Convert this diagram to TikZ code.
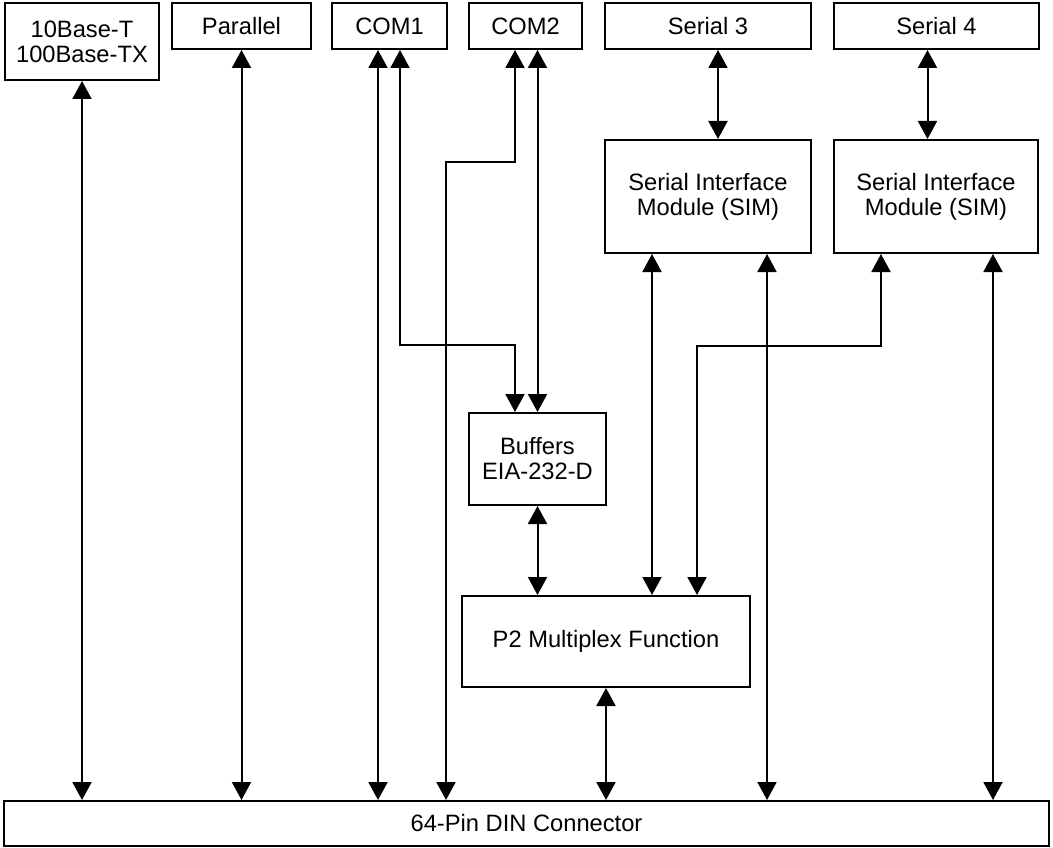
\documentclass[tikz,border=0pt]{standalone}
\usepackage{fontspec}
\setmainfont{Liberation Sans}
\usetikzlibrary{arrows.meta}

\tikzset{
  blk/.style={draw, line width=2pt, align=center, font=\fontsize{23.7}{25}\selectfont},
  link/.style={line width=2pt, {Triangle[length=18pt,width=19pt]}-{Triangle[length=18pt,width=19pt]}}
}

\begin{document}
\begin{tikzpicture}[x=1pt, y=-1pt]
\useasboundingbox (0,0) rectangle (1053,848);

% Ports along the top
\node[blk, minimum width=154pt, minimum height=77pt] (b10) at (82,41.5) {10Base-T\\100Base-TX};
\node[blk, minimum width=139pt, minimum height=46pt] (par) at (241.5,26) {Parallel};
\node[blk, minimum width=115pt, minimum height=46pt] (com1) at (389.5,26) {COM1};
\node[blk, minimum width=113pt, minimum height=46pt] (com2) at (525.5,26) {COM2};
\node[blk, minimum width=206pt, minimum height=46pt] (ser3) at (708,26) {Serial 3};
\node[blk, minimum width=205pt, minimum height=46pt] (ser4) at (936.5,26) {Serial 4};

% Serial interface modules
\node[blk, minimum width=206pt, minimum height=113pt] (sim1) at (708,196.5) {Serial Interface\\Module (SIM)};
\node[blk, minimum width=204pt, minimum height=113pt] (sim2) at (936,196.5) {Serial Interface\\Module (SIM)};

% Buffers and multiplexer
\node[blk, minimum width=137pt, minimum height=92pt] (buf) at (537.5,459) {Buffers\\EIA-232-D};
\node[blk, minimum width=288pt, minimum height=91pt] (p2) at (606,641.5) {P2 Multiplex Function};

% Connector
\node[blk, minimum width=1045pt, minimum height=45pt] (din) at (526.5,823.5) {64-Pin DIN Connector};

% Bend points
\coordinate (k2) at (515,345);
\coordinate (k3) at (515,162);
\coordinate (k4) at (446,162);
\coordinate (k6) at (697,346);

% Straight links to the DIN connector
\draw[link] (b10.south) -- (b10.south |- din.north);
\draw[link] (par.south) -- (par.south |- din.north);
\draw[link] ([xshift=-11.5pt]com1.south) -- ([xshift=-11.5pt]com1.south |- din.north);
\draw[link] ([xshift=59pt]sim1.south) -- ([xshift=59pt]sim1.south |- din.north);
\draw[link] ([xshift=57pt]sim2.south) -- ([xshift=57pt]sim2.south |- din.north);
\draw[link] (p2.south) -- (p2.south |- din.north);

% COM lines
\draw[link] ([xshift=10.5pt]com1.south) |- (k2) -- (buf.north -| k2);
\draw[link] (com2.south -| k3) -- (k3) -- (k4) -- (k4 |- din.north);
\draw[link] (buf.north |- com2.south) -- (buf.north);

% Serial lines
\draw[link] ([xshift=10pt]ser3.south) -- ([xshift=10pt]ser3.south |- sim1.north);
\draw[link] ([xshift=-9pt]ser4.south) -- ([xshift=-9pt]ser4.south |- sim2.north);
\draw[link] ([xshift=-56pt]sim1.south) -- ([xshift=-56pt]sim1.south |- p2.north);
\draw[link] ([xshift=-55pt]sim2.south) |- (k6) -- (k6 |- p2.north);

% Buffers to multiplexer
\draw[link] (buf.south) -- (buf.south |- p2.north);
\end{tikzpicture}
\end{document}
